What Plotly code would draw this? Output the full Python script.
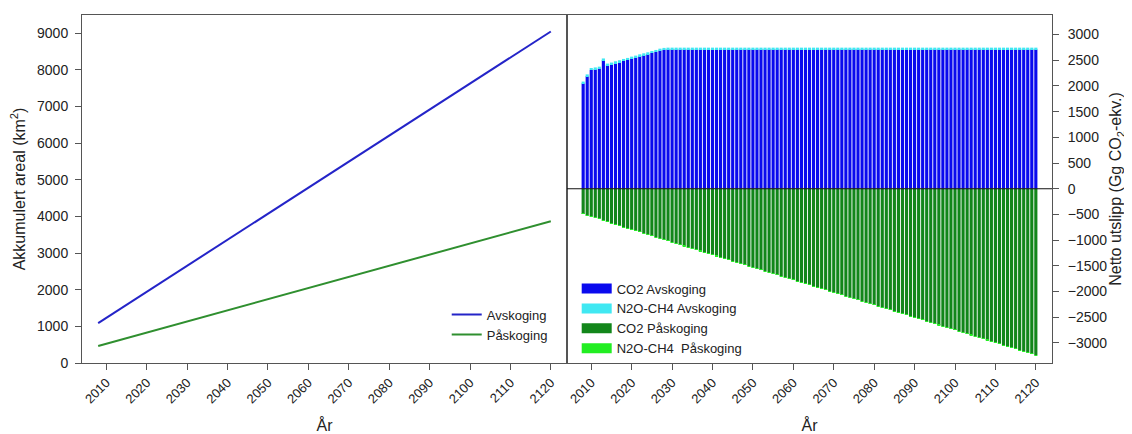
import plotly.graph_objects as go

# ---------------- data ----------------
line_years = [2008, 2120]
avskoging_areal = [1090, 9050]
paskoging_areal = [465, 3870]

bar_years = list(range(2008, 2121))

co2_avskoging = [
    2050, 2190, 2310, 2325, 2340, 2500, 2400, 2420, 2445, 2465,
    2490, 2510, 2535, 2555, 2580, 2600, 2620, 2645, 2665, 2690,
    2705, 2710, 2710, 2710, 2710, 2710, 2710, 2710, 2710, 2710,
    2710, 2710, 2710, 2710, 2710, 2710, 2710, 2710, 2710, 2710,
    2710, 2710, 2710, 2710, 2710, 2710, 2710, 2710, 2710, 2710,
    2710, 2710, 2710, 2710, 2710, 2710, 2710, 2710, 2710, 2710,
    2710, 2710, 2710, 2710, 2710, 2710, 2710, 2710, 2710, 2710,
    2710, 2710, 2710, 2710, 2710, 2710, 2710, 2710, 2710, 2710,
    2710, 2710, 2710, 2710, 2710, 2710, 2710, 2710, 2710, 2710,
    2710, 2710, 2710, 2710, 2710, 2710, 2710, 2710, 2710, 2710,
    2710, 2710, 2710, 2710, 2710, 2710, 2710, 2710, 2710, 2710,
    2710, 2710, 2710,
]

n2o_ch4_avskoging = [
    35, 35, 35, 35, 35, 35, 35, 35, 35, 35,
    35, 35, 35, 35, 35, 35, 35, 35, 35, 35,
    35, 35, 35, 35, 35, 35, 35, 35, 35, 35,
    35, 35, 35, 35, 35, 35, 35, 35, 35, 35,
    35, 35, 35, 35, 35, 35, 35, 35, 35, 35,
    35, 35, 35, 35, 35, 35, 35, 35, 35, 35,
    35, 35, 35, 35, 35, 35, 35, 35, 35, 35,
    35, 35, 35, 35, 35, 35, 35, 35, 35, 35,
    35, 35, 35, 35, 35, 35, 35, 35, 35, 35,
    35, 35, 35, 35, 35, 35, 35, 35, 35, 35,
    35, 35, 35, 35, 35, 35, 35, 35, 35, 35,
    35, 35, 35,
]

co2_paskoging = [
    -490, -520, -535, -555, -570, -620, -645, -670, -695, -720,
    -745, -770, -795, -815, -840, -865, -890, -915, -940, -965,
    -990, -1015, -1040, -1064, -1089, -1113, -1138, -1162, -1186, -1211,
    -1235, -1260, -1284, -1308, -1333, -1357, -1381, -1406, -1430, -1455,
    -1479, -1503, -1528, -1552, -1577, -1601, -1625, -1650, -1674, -1699,
    -1723, -1747, -1772, -1796, -1821, -1845, -1869, -1894, -1918, -1942,
    -1967, -1991, -2016, -2040, -2064, -2089, -2113, -2138, -2162, -2186,
    -2211, -2235, -2260, -2284, -2308, -2333, -2357, -2381, -2406, -2430,
    -2455, -2479, -2503, -2528, -2552, -2577, -2601, -2625, -2650, -2674,
    -2699, -2723, -2747, -2772, -2796, -2821, -2845, -2869, -2894, -2918,
    -2942, -2967, -2991, -3016, -3040, -3064, -3089, -3113, -3138, -3162,
    -3186, -3211, -3235,
]

n2o_ch4_paskoging = [
    -1, -1, -1, -1, -1, -1, -1, -1, -1, -1,
    -1, -1, -1, -1, -1, -1, -1, -1, -1, -1,
    -1, -1, -1, -1, -1, -1, -1, -1, -1, -1,
    -1, -1, -1, -1, -1, -1, -1, -1, -1, -1,
    -1, -1, -1, -1, -1, -1, -1, -1, -1, -1,
    -1, -1, -1, -1, -1, -1, -1, -1, -1, -1,
    -1, -1, -1, -1, -1, -1, -1, -1, -1, -1,
    -1, -1, -1, -1, -1, -1, -1, -1, -1, -1,
    -1, -1, -1, -1, -1, -1, -1, -1, -1, -1,
    -1, -1, -1, -1, -1, -1, -1, -1, -1, -1,
    -1, -1, -1, -1, -1, -1, -1, -1, -1, -1,
    -1, -1, -1,
]

x_ticks = list(range(2010, 2121, 10))
left_y_ticks = list(range(0, 9001, 1000))
right_y_ticks = list(range(-3000, 3001, 500))

# ---------------- styles ----------------
FONT = "Arial, 'Liberation Sans', sans-serif"
AXC = "#555555"
TXT = "#222222"
C_BLUE_LINE = "#2424c8"
C_GREEN_LINE = "#2f8f2f"
C_CO2_AV = "#0a0aee"
C_N2O_AV = "#40e8f2"
C_CO2_PA = "#12861a"
C_N2O_PA = "#22ee22"

fig = go.Figure()

fig.add_trace(go.Scatter(x=line_years, y=avskoging_areal, mode="lines", name="Avskoging",
                         line=dict(color=C_BLUE_LINE, width=2), xaxis="x", yaxis="y", legend="legend"))
fig.add_trace(go.Scatter(x=line_years, y=paskoging_areal, mode="lines", name="Påskoging",
                         line=dict(color=C_GREEN_LINE, width=2), xaxis="x", yaxis="y", legend="legend"))

bar_series = [
    ("CO2 Avskoging", co2_avskoging, C_CO2_AV),
    ("N2O-CH4 Avskoging", n2o_ch4_avskoging, C_N2O_AV),
    ("CO2 Påskoging", co2_paskoging, C_CO2_PA),
    ("N2O-CH4\u00a0 Påskoging", n2o_ch4_paskoging, C_N2O_PA),
]
for name, vals, col in bar_series:
    fig.add_trace(go.Bar(x=bar_years, y=vals, name=name, marker=dict(color=col, line=dict(width=0)),
                         xaxis="x2", yaxis="y2", showlegend=False, legendgroup=name))
for name, vals, col in bar_series:
    fig.add_trace(go.Scatter(x=[None], y=[None], mode="lines", name=name, legendgroup=name,
                             line=dict(color=col, width=10), xaxis="x2", yaxis="y2", legend="legend2"))

xcommon = dict(range=[2004, 2124], tickvals=x_ticks, tickangle=-45, showline=True, linecolor=AXC,
               linewidth=1, mirror=True, ticks="outside", ticklen=6, tickcolor=AXC, showgrid=False,
               zeroline=False, automargin=False, tickfont=dict(size=13, color=TXT, family=FONT),
               title=dict(text="År", font=dict(size=16, color=TXT, family=FONT), standoff=17))

# page body has an 8px margin; figure is sized to the visible area
fig.update_layout(
    template="none",
    width=1124, height=426, autosize=False,
    margin=dict(l=74, r=80, t=7, b=71, pad=0),
    paper_bgcolor="white", plot_bgcolor="white",
    font=dict(family=FONT, color=TXT),
    barmode="relative", bargap=0.22,
    xaxis=dict(domain=[0, 0.5], anchor="y", **xcommon),
    xaxis2=dict(domain=[0.5, 1], anchor="y2", **xcommon),
    yaxis=dict(range=[0, 9500], tickvals=left_y_ticks, showline=True, linecolor=AXC, linewidth=1,
               mirror=True, ticks="outside", ticklen=6, tickcolor=AXC, showgrid=False, zeroline=False,
               automargin=False, ticklabelstandoff=4, tickfont=dict(size=14, color=TXT, family=FONT),
               title=dict(text="Akkumulert areal (km<sup>2</sup>)", font=dict(size=16, color=TXT, family=FONT),
                          standoff=10)),
    yaxis2=dict(range=[-3390, 3380], tickvals=right_y_ticks, side="right", anchor="x2", showline=True,
                linecolor=AXC, linewidth=1, mirror=True, ticks="outside", ticklen=6, tickcolor=AXC,
                showgrid=False, zeroline=False, automargin=False, ticklabelstandoff=6,
                tickfont=dict(size=14, color=TXT, family=FONT),
                title=dict(text="Netto utslipp (Gg CO<sub>2</sub>-ekv.)",
                           font=dict(size=16, color=TXT, family=FONT), standoff=3)),
    legend=dict(x=0.376, y=0.182, xanchor="left", yanchor="top", bgcolor="rgba(0,0,0,0)",
                font=dict(size=13, color=TXT, family=FONT), tracegroupgap=0),
    legend2=dict(x=0.510, y=0.257, xanchor="left", yanchor="top", bgcolor="rgba(0,0,0,0)",
                 font=dict(size=13, color=TXT, family=FONT), tracegroupgap=0),
    shapes=[dict(type="line", xref="x2 domain", yref="y2", x0=0, x1=1, y0=0, y1=0,
                 line=dict(color="#111111", width=1.2), layer="above")],
)

fig.write_html("out.html")
